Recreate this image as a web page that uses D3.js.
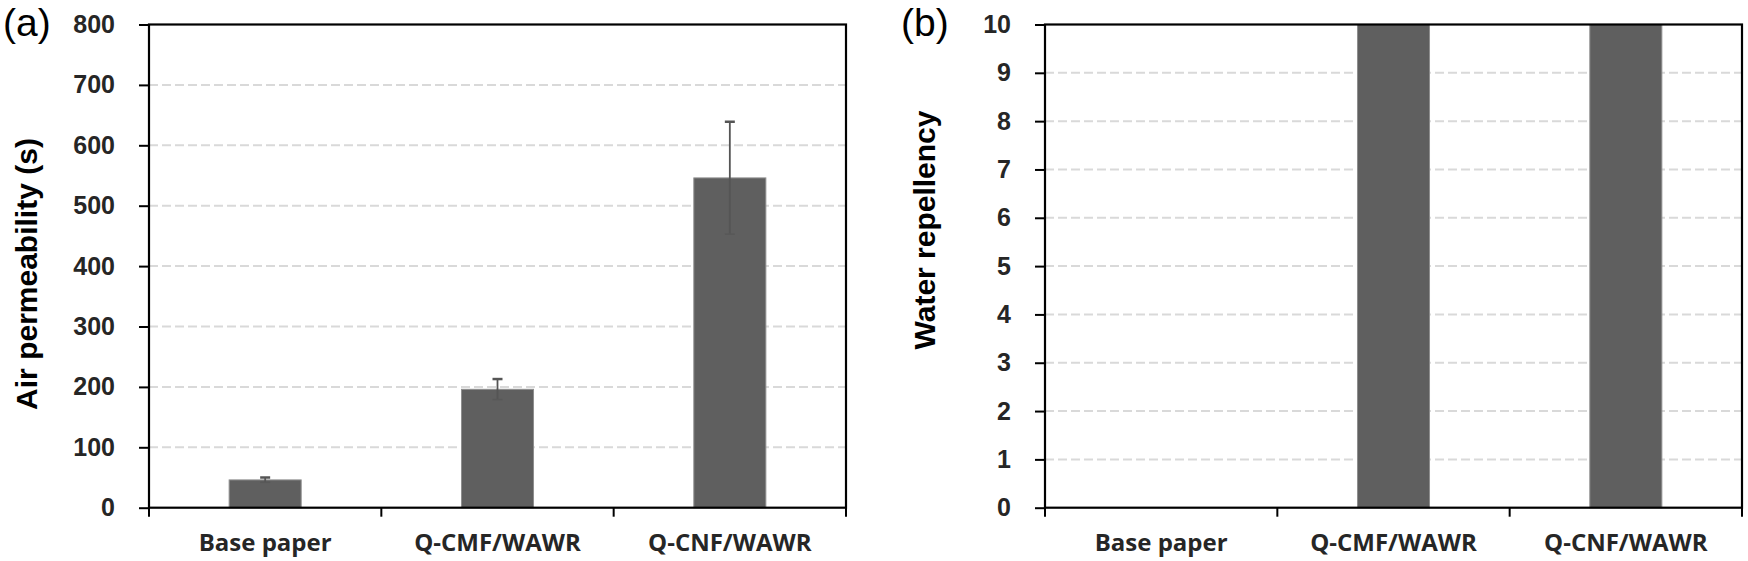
<!DOCTYPE html>
<html>
<head>
<meta charset="utf-8">
<script src="https://cdn.jsdelivr.net/npm/d3@7"></script>
<style>
  body { margin: 0; background: #fff; }
  svg { display: block; }
  .tick-lbl text { font-family: "Liberation Sans", Arial, sans-serif; font-weight: bold; font-size: 25px; fill: #262626; }
  .cat-lbl text { font-family: "Open Sans", sans-serif; font-weight: 700; font-size: 24px; fill: #262626; }
  .axis-title { font-family: "Liberation Sans", Arial, sans-serif; font-weight: bold; font-size: 30px; fill: #000; }
  .panel-tag { font-family: "Liberation Sans", Arial, sans-serif; font-size: 39px; fill: #000; }
</style>
</head>
<body>
<svg id="chart" width="1748" height="561"></svg>
<script>
// data
var categories = ["Base paper", "Q-CMF/WAWR", "Q-CNF/WAWR"];
var airPerm = [46, 196, 546];
var airErr = [4, 17, 93];
var waterRep = [0, 10, 10];
var waterErr = [0, 0, 0];
var airTicks = [0, 100, 200, 300, 400, 500, 600, 700, 800];
var waterTicks = [0, 1, 2, 3, 4, 5, 6, 7, 8, 9, 10];

var svg = d3.select("#chart");

function drawPanel(opt) {
  var left = opt.left, right = opt.right, top = 24.5, bottom = 507.7;
  var g = svg.append("g");

  var x = d3.scaleBand()
            .domain(categories)
            .range([left, right])
            .padding(0);
  var y = d3.scaleLinear()
            .domain(opt.domain)
            .range([bottom, top]);

  // dashed gridlines
  g.append("g")
    .selectAll("line")
    .data(opt.ticks.filter(function(t){ return t > opt.domain[0] && t < opt.domain[1]; }))
    .join("line")
    .attr("x1", left).attr("x2", right)
    .attr("y1", function(d){ return y(d); })
    .attr("y2", function(d){ return y(d); })
    .attr("stroke", "#d9d9d9")
    .attr("stroke-width", 2)
    .attr("stroke-dasharray", "9,4");

  var rows = categories.map(function(c, i){ return {cat: c, v: opt.values[i], e: opt.errors[i]}; });
  var bw = x.bandwidth() * 0.31;

  g.append("g")
    .selectAll("rect")
    .data(rows.filter(function(d){ return d.v > 0; }))
    .join("rect")
    .attr("x", function(d){ return x(d.cat) + x.bandwidth()/2 - bw/2; })
    .attr("y", function(d){ return y(d.v); })
    .attr("width", bw)
    .attr("height", function(d){ return y(0) - y(d.v); })
    .attr("fill", "#5f5f5f")
    .attr("stroke", "#8e8e8e")
    .attr("stroke-width", 1);

  // error bars
  var eb = g.append("g")
    .selectAll("g")
    .data(rows.filter(function(d){ return d.e > 0; }))
    .join("g")
    .attr("stroke", "#555");
  eb.append("line")
    .attr("x1", function(d){ return x(d.cat) + x.bandwidth()/2; })
    .attr("x2", function(d){ return x(d.cat) + x.bandwidth()/2; })
    .attr("y1", function(d){ return y(d.v + d.e); })
    .attr("y2", function(d){ return y(d.v - d.e); })
    .attr("stroke-width", 1.8);
  eb.append("line")
    .attr("x1", function(d){ return x(d.cat) + x.bandwidth()/2 - 5; })
    .attr("x2", function(d){ return x(d.cat) + x.bandwidth()/2 + 5; })
    .attr("y1", function(d){ return y(d.v + d.e); })
    .attr("y2", function(d){ return y(d.v + d.e); })
    .attr("stroke-width", 2.5);
  eb.append("line")
    .attr("x1", function(d){ return x(d.cat) + x.bandwidth()/2 - 5; })
    .attr("x2", function(d){ return x(d.cat) + x.bandwidth()/2 + 5; })
    .attr("y1", function(d){ return y(d.v - d.e); })
    .attr("y2", function(d){ return y(d.v - d.e); })
    .attr("stroke", "#585858")
    .attr("stroke-width", 1.5);

  // y axis with outward ticks
  var yAxis = g.append("g")
    .attr("class", "tick-lbl")
    .attr("transform", "translate(" + left + ",0)")
    .call(d3.axisLeft(y).tickValues(opt.ticks).tickSize(10).tickPadding(24).tickSizeOuter(0));
  yAxis.select(".domain").remove();
  yAxis.selectAll(".tick line").attr("stroke", "#000").attr("stroke-width", 2);

  // category labels
  var xAxis = g.append("g")
    .attr("class", "cat-lbl")
    .attr("transform", "translate(0," + bottom + ")")
    .call(d3.axisBottom(x).tickSize(0).tickPadding(26));
  xAxis.select(".domain").remove();

  // boundary ticks below the x axis
  var bounds = categories.map(function(c){ return x(c); }).concat([right]);
  g.append("g")
    .selectAll("line")
    .data(bounds)
    .join("line")
    .attr("x1", function(d){ return d; }).attr("x2", function(d){ return d; })
    .attr("y1", bottom).attr("y2", bottom + 9)
    .attr("stroke", "#000").attr("stroke-width", 2);

  // frame
  g.append("rect")
    .attr("x", left).attr("y", top)
    .attr("width", right - left).attr("height", bottom - top)
    .attr("fill", "none")
    .attr("stroke", "#000")
    .attr("stroke-width", 2.2);

  svg.append("text")
    .attr("class", "axis-title")
    .attr("text-anchor", "middle")
    .attr("transform", "translate(" + opt.titleX + "," + opt.titleY + ") rotate(-90)")
    .text(opt.title);

  svg.append("text")
    .attr("class", "panel-tag")
    .attr("x", opt.tagX)
    .attr("y", 36)
    .text(opt.tag);
}

drawPanel({left: 149, right: 846, domain: [0, 800], ticks: airTicks,
           values: airPerm, errors: airErr, title: "Air permeability (s)",
           titleX: 37, titleY: 274, tag: "(a)", tagX: 3});
drawPanel({left: 1045, right: 1742, domain: [0, 10], ticks: waterTicks,
           values: waterRep, errors: waterErr, title: "Water repellency",
           titleX: 935, titleY: 230, tag: "(b)", tagX: 901});
</script>
</body>
</html>
